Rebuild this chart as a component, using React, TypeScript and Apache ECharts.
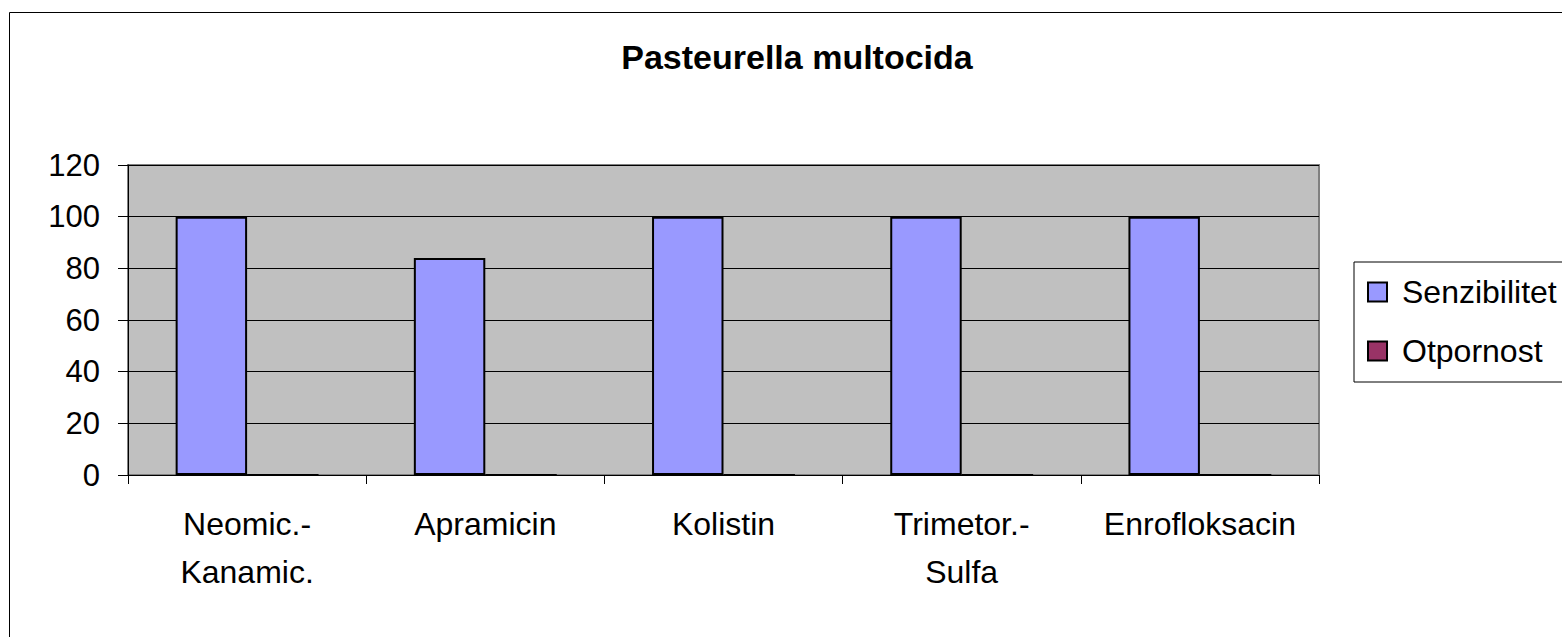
import React, { useEffect, useRef } from "react";
import * as echarts from "echarts";

const categories = ["Neomic.-\nKanamic.", "Apramicin", "Kolistin", "Trimetor.-\nSulfa", "Enrofloksacin"];
const senzibilitet = [100, 84, 100, 100, 100];
const otpornost = [0, 0, 0, 0, 0];
const seriesNames = ["Senzibilitet", "Otpornost"];
const titleText = "Pasteurella multocida";

export default function App() {
  const ref = useRef<HTMLDivElement>(null);
  useEffect(() => {
    if (!ref.current) return;
    const chart = echarts.init(ref.current, null, { renderer: "svg" });
    const font = "Arial, 'Liberation Sans', sans-serif";
    chart.setOption({
      animation: false,
      backgroundColor: "#ffffff",
      textStyle: { fontFamily: font },
      title: {
        text: titleText,
        left: 792,
        top: 35,
        textAlign: "center",
        textStyle: { fontSize: 34, fontWeight: "bold", color: "#000", fontFamily: font },
      },
      graphic: [
        {
          type: "rect",
          shape: { x: 9.5, y: 12.5, width: 1700, height: 800 },
          style: { fill: "none", stroke: "#000", lineWidth: 1 },
          z: 100,
        },
      ],
      legend: {
        left: 1354,
        top: 262,
        orient: "vertical",
        padding: [14, 20, 15, 13],
        itemWidth: 19,
        itemHeight: 19,
        itemGap: 27,
        icon: "rect",
        borderColor: "#000",
        borderWidth: 1,
        backgroundColor: "#fff",
        textStyle: { fontSize: 32, color: "#000", fontFamily: font, padding: [0, 0, 0, 10] },
        data: seriesNames,
      },
      grid: {
        left: 128,
        top: 165,
        right: 243,
        bottom: 162,
        show: true,
        backgroundColor: "#C0C0C0",
        borderColor: "#808080",
        borderWidth: 2,
        containLabel: false,
      },
      xAxis: {
        type: "category",
        data: categories,
        axisLine: { show: true, lineStyle: { color: "#000", width: 1 } },
        axisTick: { show: true, length: 9, lineStyle: { color: "#000" } },
        axisLabel: { fontSize: 32, color: "#000", lineHeight: 48, margin: 25, interval: 0, fontFamily: font },
        splitLine: { show: false },
      },
      yAxis: {
        type: "value",
        min: 0,
        max: 120,
        interval: 20,
        axisLine: { show: true, lineStyle: { color: "#000", width: 1 } },
        axisTick: { show: true, length: 10, lineStyle: { color: "#000" } },
        axisLabel: { fontSize: 31, color: "#000", margin: 28, fontFamily: font },
        splitLine: { show: true, lineStyle: { color: "#000", width: 1 } },
      },
      series: [
        {
          name: seriesNames[0],
          type: "bar",
          data: senzibilitet,
          barGap: "0%",
          barCategoryGap: "40%",
          itemStyle: { color: "#9999FF", borderColor: "#000", borderWidth: 2 },
        },
        {
          name: seriesNames[1],
          type: "bar",
          data: otpornost,
          itemStyle: { color: "#993366", borderColor: "#000", borderWidth: 2 },
        },
      ],
    });
    return () => chart.dispose();
  }, []);
  return (
    <div
      ref={ref}
      style={{ position: "absolute", left: 0, top: 0, width: 1562, height: 637 }}
    />
  );
}
